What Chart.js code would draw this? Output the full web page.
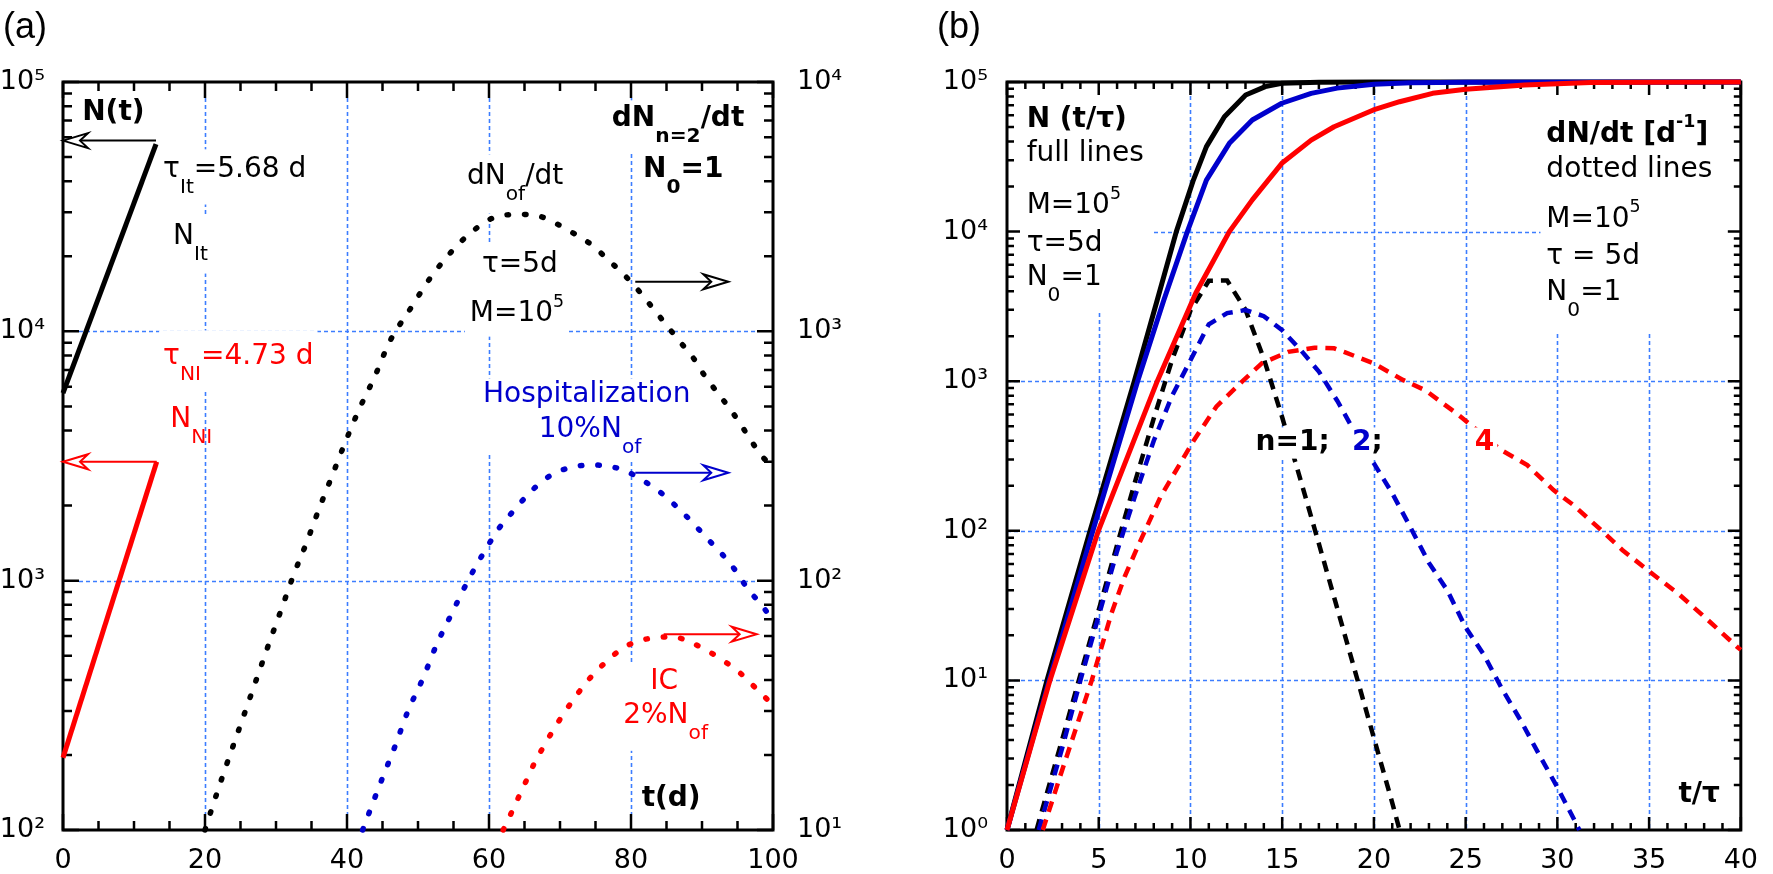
<!DOCTYPE html>
<html>
<head>
<meta charset="utf-8">
<script src="https://cdn.jsdelivr.net/npm/chart.js@4.4.0/dist/chart.umd.min.js"></script>
<style>
  html, body { margin: 0; padding: 0; background: #fff; }
  body { width: 1773px; height: 874px; position: relative; overflow: hidden; }
  .box { position: absolute; top: 0; }
  .tag { position: absolute; top: 8px; font: 36px "Liberation Sans", sans-serif; line-height: 36px; color: #000; }
</style>
</head>
<body>
<div class="box" style="left:0;width:890px;height:874px"><canvas id="chartA" width="890" height="874"></canvas></div>
<div class="box" style="left:890px;width:883px;height:874px"><canvas id="chartB" width="883" height="874"></canvas></div>
<div class="tag" style="left:3px">(a)</div>
<div class="tag" style="left:937px">(b)</div>
<script>
// ---- panel (a): t in days ----
const xTicksA = [0, 20, 40, 60, 80, 100];
const yTicksA = [1e2, 1e3, 1e4, 1e5];      // left axis, N(t)
const y2TicksA = [1e1, 1e2, 1e3, 1e4];     // right axis, dN/dt

const tNIt = [0, 13.1];
const vNIt = [5650, 56400];
const tNNI = [0, 13.2];
const vNNI = [195, 3000];

const tOf = [20, 20.5, 22.5, 25.0, 27.4, 29.1, 30.8, 32.4, 34.3, 36.0, 37.8, 39.7, 41.7, 43.9, 46.0, 48.8,
  51.8, 53.7, 55.8, 57.9, 60.1, 62.5, 64.8, 67.3, 69.7, 72.1, 74.5, 76.7, 79.2, 81.2, 83.2, 85.1, 86.9,
  88.8, 90.4, 92.1, 94.0, 95.6, 97.0, 98.7, 100];
const vOf = [10, 11.1, 16.5, 26.4, 41.4, 56.9, 77.4, 104, 142, 192, 259, 356, 486, 658, 908, 1216,
  1648, 1932, 2254, 2547, 2812, 2931, 2944, 2884, 2685, 2455, 2218, 1945, 1667, 1442, 1227, 1050, 908,
  780, 662, 571, 486, 417, 361, 310, 288];

const tHosp = [42.2, 43.2, 45.0, 46.8, 48.5, 50.7, 52.6, 54.8, 57.2, 59.9, 61.4, 63.2, 65.2, 67.6, 69.9,
  72.4, 74.5, 76.8, 79.3, 81.5, 83.9, 86.1, 88.5, 90.6, 92.8, 94.8, 96.4, 98.3, 100];
const vHosp = [10, 11.9, 16.2, 21.8, 29.6, 40.6, 55.2, 74.3, 102, 139, 162, 187, 217, 252, 275,
  288, 291, 288, 275, 254, 229, 202, 173, 149, 128, 109, 93.1, 80.4, 69.5];

const tIC = [62.0, 63.2, 64.3, 65.4, 66.5, 67.8, 69.2, 70.7, 72.3, 74.1, 76.5, 78.8, 81.0, 83.5, 85.9,
  88.2, 90.4, 92.9, 95.3, 97.6, 100];
const vIC = [10, 11.8, 13.8, 16.1, 18.8, 21.9, 25.6, 29.8, 34.6, 40.3, 47.3, 53.5, 57.3, 59.0, 59.6,
  56.9, 53.0, 48.0, 42.8, 37.0, 31.7];

// ---- panel (b): t/tau ----
const xTicksB = [0, 5, 10, 15, 20, 25, 30, 35, 40];
const yTicksB = [1e0, 1e1, 1e2, 1e3, 1e4, 1e5];

const tN1 = [0, 2.18, 4.53, 6.94, 8.19, 9.23, 10.16, 10.87, 11.85, 13.01, 14.08, 14.98, 17, 20, 40];
const vN1 = [1, 10, 100, 1000, 3490, 10000, 22100, 37000, 58600, 81800, 93100, 98000, 99700, 100000, 100000];
const tN2 = [0, 2.3, 4.68, 7.12, 8.55, 9.83, 10.87, 12.12, 13.37, 14.98, 16.58, 18, 20, 22, 25, 40];
const vN2 = [1, 10, 100, 1000, 3490, 10000, 22100, 38900, 55700, 72100, 83900, 91000, 96600, 98900, 99800, 100000];
const tN4 = [0, 2.34, 4.98, 8.19, 10.3, 12.12, 13.37, 14.98, 16.58, 17.83, 19.97, 21.4, 23.2, 25, 28.2, 31.8, 35, 40];
const vN4 = [1, 10, 100, 1000, 3900, 10000, 16300, 28600, 40900, 50200, 65000, 73800, 84000, 89300, 95500, 99100, 99800, 100000];

const tD1 = [1.61, 2, 3, 4, 5, 6, 7, 8, 9, 10, 11, 12, 13, 14, 15, 16, 17, 18, 19, 20, 21, 21.4];
const vD1 = [1, 1.48, 4.0, 10.9, 29.6, 80.3, 217, 564, 1391, 2963, 4690, 4710, 3000, 1414, 574, 219, 82, 30.4, 11.2, 4.12, 1.52, 1];
const tD2 = [1.73, 3, 4, 5, 6, 7, 8, 9, 10, 11, 12, 13, 14, 15, 16, 17, 18, 19, 20, 21, 22, 23, 24, 25, 26, 27, 28, 29, 30, 31, 31.2];
const vD2 = [1, 3.5, 10, 27, 73, 174, 400, 800, 1380, 2400, 2850, 2990, 2720, 2190, 1620, 1160, 740, 447, 282, 178, 105, 61, 40, 22.6, 14.8, 8.7, 5.4, 3.2, 1.93, 1.12, 1];
const tD4 = [1.95, 3, 4.62, 5.69, 6.41, 7.12, 8.37, 9.44, 10.2, 11.41, 12.84, 13.9, 15.33, 16.76, 17.83, 18.37, 19.97,
  21.58, 22.8, 24.62, 26.93, 28.36, 29.79, 30.86, 32.47, 33.54, 35.14, 36.57, 38.0, 39.79, 40];
const vD4 = [1, 2.5, 10, 28, 49.3, 78, 169, 282, 405, 676, 1000, 1320, 1570, 1675, 1660, 1570, 1320,
  1020, 870, 594, 347, 275, 187, 149, 98.9, 74.5, 52, 38.2, 26.7, 16.8, 16];

const BLACK = "#000000", RED = "#ff0000", BLUE = "#0000cc", GRID = "rgb(60,125,255)";
const FONT = '"DejaVu Sans"';
const SUP = { "0": "\u2070", "1": "\u00b9", "2": "\u00b2", "3": "\u00b3", "4": "\u2074", "5": "\u2075", "-": "\u207b" };

Chart.defaults.font.family = FONT;

function powLabel(v) {
  const e = Math.round(Math.log10(v));
  return "10" + String(e).split("").map(c => SUP[c]).join("");
}
function series(ts, vs) { return ts.map((t, i) => ({ x: t, y: vs[i] })); }
function logMinors(lo, hi) {
  const out = [];
  for (let d = lo; d < hi; d++) for (let k = 2; k < 10; k++) out.push(k * Math.pow(10, d));
  return out;
}
function linMinors(lo, hi, step) {
  const out = [];
  for (let v = lo; v <= hi + 1e-9; v += step) out.push(v);
  return out;
}

function solid(ts, vs, color, axis) {
  return { data: series(ts, vs), yAxisID: axis, borderColor: color, borderWidth: 5, pointRadius: 0,
    tension: 0, fill: false, clip: false, borderCapStyle: "butt", borderJoinStyle: "round" };
}
function dotted(ts, vs, color, axis) {
  return { data: series(ts, vs), yAxisID: axis, borderColor: color, borderWidth: 5.5, pointRadius: 0,
    tension: 0.3, cubicInterpolationMode: "monotone", fill: false, clip: false,
    borderDash: [1.5, 16], borderCapStyle: "round" };
}
function dashed(ts, vs, color) {
  return { data: series(ts, vs), yAxisID: "y", borderColor: color, borderWidth: 4.5, pointRadius: 0,
    tension: 0, fill: false, clip: false, borderDash: [11, 8], borderCapStyle: "butt" };
}

// labels: x in data units, y in units of the named axis
const labelsA = [
  { x: 2.7, y: 75100, size: 28, bold: true, color: BLACK, runs: [["N(t)"]], mask: [4, 4, 4, 4] },
  { x: 14.1, y: 44400, size: 28, color: BLACK, runs: [["\u03c4"], ["It", "sub"], ["=5.68 d"]], mask: [4, 8, 4, 8] },
  { x: 15.5, y: 23900, size: 28, color: BLACK, runs: [["N"], ["It", "sub"]], mask: [4, 8, 4, 10] },
  { x: 14.1, y: 7890, size: 28, color: RED, runs: [["\u03c4"], ["NI", "sub"], ["=4.73 d"]], mask: [4, 14, 4, 6] },
  { x: 15.1, y: 4410, size: 28, color: RED, runs: [["N"], ["NI", "sub"]], mask: null },
  { x: 56.9, y: 41600, size: 28, color: BLACK, runs: [["dN"], ["of", "sub"], ["/dt"]], mask: [4, 10, 4, 10] },
  { x: 59.0, y: 18450, size: 28, color: BLACK, runs: [["\u03c4=5d"]], mask: [4, 8, 4, 22] },
  { x: 57.3, y: 11730, size: 28, color: BLACK, runs: [["M=10"], ["5", "sup"]], mask: [5, 6, 3, 10] },
  { x: 77.3, y: 71100, size: 28, bold: true, color: BLACK, runs: [["dN"], ["n=2", "sub"], ["/dt"]], mask: [4, 6, 4, 6] },
  { x: 81.7, y: 44400, size: 28, bold: true, color: BLACK, runs: [["N"], ["0", "sub"], ["=1"]], mask: [4, 6, 4, 14] },
  { x: 59.15, y: 5555, size: 28, color: BLUE, runs: [["Hospitalization"]], mask: [4, 4, 4, 45] },
  { x: 67.0, y: 4018, size: 28, color: BLUE, runs: [["10%N"], ["of", "sub"]], mask: [4, 4, 4, 4] },
  { x: 82.7, y: 395, size: 28, color: RED, runs: [["IC"]], mask: [4, 4, 4, 4] },
  { x: 78.9, y: 286, size: 28, color: RED, runs: [["2%N"], ["of", "sub"]], mask: [4, 40, 4, 8] },
  { x: 81.5, y: 133, size: 28, bold: true, color: BLACK, runs: [["t(d)"]], mask: [4, 4, 4, 4] }
];
const arrowsA = [
  { x0: 13.1, x1: 0, y: 58200, axis: "y", color: BLACK },
  { x0: 13.2, x1: 0, y: 3000, axis: "y", color: RED },
  { x0: 80.6, x1: 93.7, y: 1580, axis: "y2", color: BLACK },
  { x0: 80.6, x1: 93.7, y: 271, axis: "y2", color: BLUE },
  { x0: 84.6, x1: 97.7, y: 61, axis: "y2", color: RED }
];

const labelsB = [
  { x: 1.07, y: 55700, size: 28, bold: true, color: BLACK, runs: [["N (t/\u03c4)"]] },
  { x: 1.07, y: 33000, size: 28, color: BLACK, runs: [["full lines"]] },
  { x: 1.07, y: 14800, size: 28, color: BLACK, runs: [["M=10"], ["5", "sup"]] },
  { x: 1.07, y: 8260, size: 28, color: BLACK, runs: [["\u03c4=5d"]] },
  { x: 1.07, y: 4900, size: 28, color: BLACK, runs: [["N"], ["0", "sub"], ["=1"]] },
  { x: 29.4, y: 44300, size: 28, bold: true, color: BLACK, runs: [["dN/dt [d"], ["-1", "sup"], ["]"]] },
  { x: 29.4, y: 25800, size: 28, color: BLACK, runs: [["dotted lines"]] },
  { x: 29.4, y: 11970, size: 28, color: BLACK, runs: [["M=10"], ["5", "sup"]] },
  { x: 29.4, y: 6760, size: 28, color: BLACK, runs: [["\u03c4 = 5d"]] },
  { x: 29.4, y: 3890, size: 28, color: BLACK, runs: [["N"], ["0", "sub"], ["=1"]] },
  { x: 13.55, y: 386, size: 28, bold: true, color: BLACK, runs: [["n=1;"]], mask: [3, 3, 3, 3], over: true },
  { x: 18.8, y: 386, size: 28, bold: true, color: BLACK, runs: [["2", null, BLUE], [";"]], mask: [3, 3, 3, 3], over: true },
  { x: 25.5, y: 386, size: 28, bold: true, color: RED, runs: [["4"]], mask: [3, 3, 3, 3], over: true },
  { x: 36.6, y: 1.71, size: 28, bold: true, color: BLACK, runs: [["t/\u03c4"]], mask: [4, 4, 4, 4] }
];
const boxesB = [
  { x0: 0, x1: 7.9, y0: 2860, y1: 1e5 },
  { x0: 29.08, x1: 40, y0: 2130, y1: 1e5 }
];

function layoutLabel(chart, lab) {
  const { ctx, scales } = chart;
  const w = lab.bold ? "bold " : "";
  const parts = lab.runs.map(([s, kind, color]) => {
    const size = kind === "sub" ? lab.size * 0.72 : kind === "sup" ? lab.size * 0.62 : lab.size;
    const dy = kind === "sub" ? lab.size * 0.62 : kind === "sup" ? -lab.size * 0.43 : 0;
    const font = `${w}${size.toFixed(1)}px ${FONT}`;
    ctx.font = font;
    return { s, font, dy, width: ctx.measureText(s).width, color: color || lab.color };
  });
  return {
    px: scales.x.getPixelForValue(lab.x),
    py: scales[lab.axis || "y"].getPixelForValue(lab.y),
    parts,
    total: parts.reduce((s, p) => s + p.width, 0)
  };
}

function maskLabel(chart, lab) {
  if (!lab.mask) return;
  const { ctx, chartArea: a } = chart;
  const { px, py, total } = layoutLabel(chart, lab);
  const [l, t, r, b] = lab.mask;
  const hasSub = lab.runs.some(q => q[1] === "sub");
  const hasSup = lab.runs.some(q => q[1] === "sup");
  const x0 = Math.max(a.left, px - l), x1 = Math.min(a.right, px + total + r);
  const y0 = Math.max(a.top, py - lab.size * 0.45 - (hasSup ? lab.size * 0.25 : 0) - t);
  const y1 = Math.min(a.bottom, py + lab.size * 0.45 + (hasSub ? lab.size * 0.5 : 0) + b);
  ctx.fillStyle = "#fff";
  ctx.fillRect(x0, y0, x1 - x0, y1 - y0);
}

function textLabel(chart, lab) {
  const { ctx } = chart;
  const { px, py, parts } = layoutLabel(chart, lab);
  ctx.textBaseline = "middle";
  ctx.textAlign = "left";
  let x = px;
  parts.forEach(p => {
    ctx.font = p.font;
    ctx.fillStyle = p.color;
    ctx.fillText(p.s, x, py + p.dy);
    x += p.width;
  });
}

function drawArrow(ctx, x0, x1, y, color) {
  const dir = Math.sign(x1 - x0), L = 25, W = 7.5, N = 17;
  ctx.strokeStyle = color;
  ctx.lineWidth = 2;
  ctx.setLineDash([]);
  ctx.beginPath();
  ctx.moveTo(x0, y);
  ctx.lineTo(x1 - dir * N, y);
  ctx.stroke();
  ctx.beginPath();
  ctx.moveTo(x1, y);
  ctx.lineTo(x1 - dir * L, y - W);
  ctx.lineTo(x1 - dir * N, y);
  ctx.lineTo(x1 - dir * L, y + W);
  ctx.closePath();
  ctx.fillStyle = "#fff";
  ctx.fill();
  ctx.stroke();
}

function makeDeco(spec) {
  return {
    id: "deco",
    beforeDatasetsDraw(chart) {
      const { ctx, chartArea: a, scales } = chart;
      ctx.save();
      // blue dotted grid
      ctx.strokeStyle = GRID;
      ctx.lineWidth = 1.6;
      ctx.setLineDash([4, 3]);
      ctx.beginPath();
      spec.gridX.forEach(v => {
        const p = Math.round(scales.x.getPixelForValue(v)) + 0.5;
        ctx.moveTo(p, a.top + spec.inset); ctx.lineTo(p, a.bottom - spec.inset);
      });
      spec.gridY.forEach(v => {
        const p = Math.round(scales.y.getPixelForValue(v)) + 0.5;
        ctx.moveTo(a.left + spec.inset, p); ctx.lineTo(a.right - spec.inset, p);
      });
      ctx.stroke();
      ctx.setLineDash([]);
      // white boxes behind text blocks
      ctx.fillStyle = "#fff";
      (spec.boxes || []).forEach(b => {
        const x0 = scales.x.getPixelForValue(b.x0), x1 = scales.x.getPixelForValue(b.x1);
        const y0 = scales.y.getPixelForValue(b.y1), y1 = scales.y.getPixelForValue(b.y0);
        ctx.fillRect(x0, y0, x1 - x0, y1 - y0);
      });
      const under = spec.labels.filter(l => !l.over);
      under.forEach(l => maskLabel(chart, l));
      under.forEach(l => textLabel(chart, l));
      // frame
      ctx.strokeStyle = "#000";
      ctx.lineWidth = 3;
      ctx.strokeRect(a.left, a.top, a.right - a.left, a.bottom - a.top);
      // inward ticks
      ctx.lineWidth = 2.5;
      ctx.beginPath();
      const xTick = (v, len) => {
        const p = scales.x.getPixelForValue(v);
        ctx.moveTo(p, a.bottom); ctx.lineTo(p, a.bottom - len);
        ctx.moveTo(p, a.top); ctx.lineTo(p, a.top + len);
      };
      const yTick = (axis, v, len, side) => {
        const p = scales[axis].getPixelForValue(v);
        if (side === "left") { ctx.moveTo(a.left, p); ctx.lineTo(a.left + len, p); }
        else { ctx.moveTo(a.right, p); ctx.lineTo(a.right - len, p); }
      };
      spec.xMajor.forEach(v => xTick(v, spec.majL));
      spec.xMinor.forEach(v => xTick(v, spec.minL));
      spec.left.major.forEach(v => yTick(spec.left.axis, v, spec.majL, "left"));
      spec.left.minor.forEach(v => yTick(spec.left.axis, v, spec.minL, "left"));
      spec.right.major.forEach(v => yTick(spec.right.axis, v, spec.majL, "right"));
      spec.right.minor.forEach(v => yTick(spec.right.axis, v, spec.minL, "right"));
      ctx.stroke();
      ctx.restore();
    },
    afterDatasetsDraw(chart) {
      const { ctx, scales } = chart;
      ctx.save();
      const over = spec.labels.filter(l => l.over);
      over.forEach(l => maskLabel(chart, l));
      over.forEach(l => textLabel(chart, l));
      (spec.arrows || []).forEach(ar => {
        const y = scales[ar.axis].getPixelForValue(ar.y);
        drawArrow(ctx, scales.x.getPixelForValue(ar.x0), scales.x.getPixelForValue(ar.x1), y, ar.color);
      });
      ctx.restore();
    }
  };
}

const tickFont = { family: FONT, size: 27 };
function xScale(max, ticks) {
  return {
    type: "linear", min: 0, max: max, position: "bottom",
    afterBuildTicks: s => { s.ticks = ticks.map(v => ({ value: v })); },
    ticks: { font: tickFont, color: "#000", padding: 15, maxRotation: 0, autoSkip: false },
    grid: { display: false, drawTicks: false }, border: { display: false },
    afterFit: s => { s.height = 44; }
  };
}
function logScale(pos, min, max, ticks, width, pad) {
  return {
    type: "logarithmic", position: pos, min: min, max: max,
    afterBuildTicks: s => { s.ticks = ticks.map(v => ({ value: v })); },
    ticks: { font: tickFont, color: "#000", padding: pad, autoSkip: false, callback: v => powLabel(v) },
    grid: { display: false, drawTicks: false }, border: { display: false },
    afterFit: s => { s.width = width; }
  };
}
const baseOptions = {
  responsive: false, animation: false, devicePixelRatio: 1, events: [],
  plugins: { legend: { display: false }, tooltip: { enabled: false } }
};

new Chart(document.getElementById("chartA"), {
  type: "line",
  data: {
    datasets: [
      solid(tNIt, vNIt, BLACK, "y"),
      solid(tNNI, vNNI, RED, "y"),
      dotted(tOf, vOf, BLACK, "y2"),
      dotted(tHosp, vHosp, BLUE, "y2"),
      dotted(tIC, vIC, RED, "y2")
    ]
  },
  options: Object.assign({}, baseOptions, {
    layout: { padding: { top: 82, left: 0, right: 0, bottom: 0 } },
    scales: {
      x: xScale(100, xTicksA),
      y: logScale("left", 1e2, 1e5, yTicksA, 63, 18),
      y2: logScale("right", 1e1, 1e4, y2TicksA, 117, 24)
    }
  }),
  plugins: [makeDeco({
    gridX: xTicksA.slice(1, -1), gridY: yTicksA.slice(1, -1), inset: 16,
    labels: labelsA, arrows: arrowsA,
    xMajor: xTicksA, xMinor: linMinors(0, 100, 5).filter(v => v % 20 !== 0),
    left: { axis: "y", major: yTicksA, minor: logMinors(2, 5) },
    right: { axis: "y2", major: y2TicksA, minor: logMinors(1, 4) },
    majL: 16, minL: 9
  })]
});

new Chart(document.getElementById("chartB"), {
  type: "line",
  data: {
    datasets: [
      solid(tN4, vN4, RED, "y"),
      solid(tN2, vN2, BLUE, "y"),
      solid(tN1, vN1, BLACK, "y"),
      dashed(tD4, vD4, RED),
      dashed(tD2, vD2, BLUE),
      dashed(tD1, vD1, BLACK)
    ]
  },
  options: Object.assign({}, baseOptions, {
    layout: { padding: { top: 82, left: 0, right: 19, bottom: 0 } },
    scales: {
      x: xScale(40, xTicksB),
      y: logScale("left", 1e0, 1e5, yTicksB, 117, 19)
    }
  }),
  plugins: [makeDeco({
    gridX: xTicksB.slice(1, -1), gridY: yTicksB.slice(1, -1), inset: 0,
    labels: labelsB, boxes: boxesB,
    xMajor: xTicksB, xMinor: linMinors(0, 40, 1).filter(v => v % 5 !== 0),
    left: { axis: "y", major: yTicksB, minor: logMinors(0, 5) },
    right: { axis: "y", major: yTicksB, minor: logMinors(0, 5) },
    majL: 13, minL: 7
  })]
});
</script>
</body>
</html>
